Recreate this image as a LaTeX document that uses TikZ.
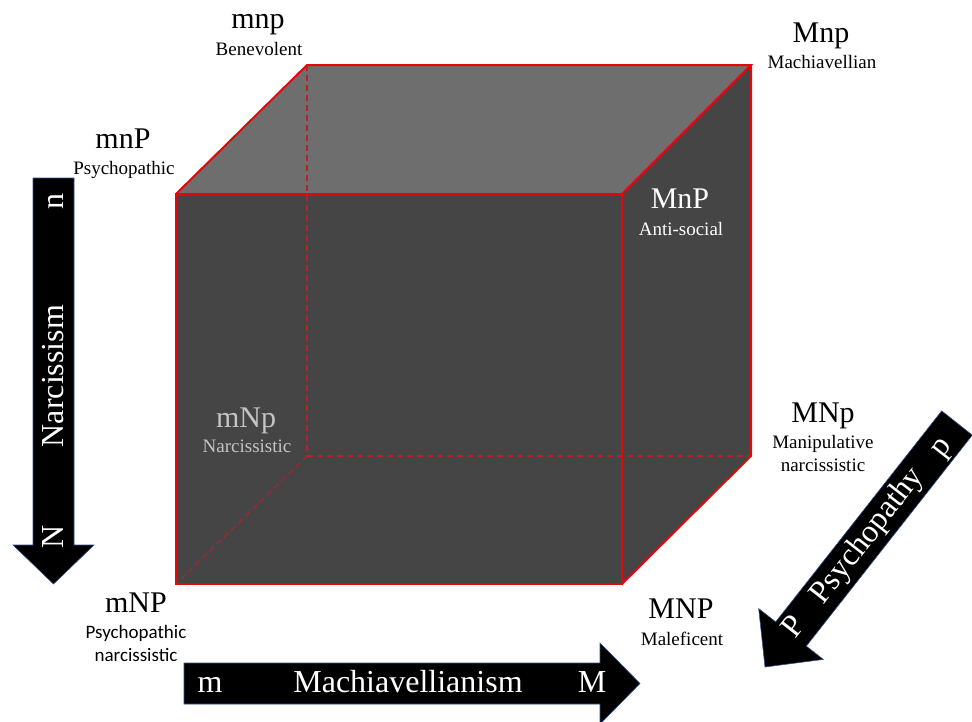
\documentclass[tikz,border=0pt]{standalone}
\usepackage{fontspec}
\setmainfont{Liberation Serif}
\newfontfamily\carlitofont{Carlito}
\definecolor{topgray}{HTML}{6E6E6E}
\definecolor{facegray}{HTML}{454545}
\definecolor{edgered}{HTML}{E00A0A}
\definecolor{dashred}{HTML}{B8202A}
\definecolor{arrowline}{HTML}{2F528F}
\definecolor{ghost}{HTML}{C4C4C4}
\tikzset{
  lab/.style={font=\fontsize{30}{30}\selectfont, anchor=base, inner sep=0pt},
  sublab/.style={font=\fontsize{19}{19}\selectfont, anchor=base, inner sep=0pt},
  axislab/.style={text=white, font=\fontsize{32}{32}\selectfont, text height=22pt, text depth=6pt, inner sep=0pt, anchor=center},
  solidedge/.style={draw=edgered, line width=2pt, line join=miter},
  hiddenedge/.style={draw=dashred, line width=1.1pt, dash pattern=on 6pt off 4pt},
  bigarrow/.style={fill=black, draw=arrowline, line width=0.6pt, line join=miter}
}
\begin{document}
\begin{tikzpicture}[x=1pt,y=-1pt]
\useasboundingbox (0,0) rectangle (972,721);
% cube corners
\coordinate (F1) at (176,194);
\coordinate (F2) at (622,194);
\coordinate (F3) at (622,584);
\coordinate (F4) at (176,584);
\coordinate (B1) at (307,65);
\coordinate (B2) at (751,65);
\coordinate (B3) at (751,456);
\coordinate (B4) at (307,456);
% faces
\fill[topgray] (F1) -- (B1) -- (B2) -- (F2) -- cycle;
\fill[facegray] (F2) -- (B2) -- (B3) -- (F3) -- cycle;
\fill[facegray] (F1) -- (F2) -- (F3) -- (F4) -- cycle;
% hidden edges
\draw[hiddenedge] (B1) -- (B4);
\draw[hiddenedge] (B4) -- (B3);
\draw[hiddenedge] (B4) -- (F4);
% visible edges
\draw[solidedge] (F1) -- (F2) -- (F3) -- (F4) -- cycle;
\draw[solidedge] (F1) -- (B1) -- (B2) -- (F2);
\draw[solidedge] (B2) -- (B3) -- (F3);
% arrows
\path[bigarrow] (33,178) -- (74,178) -- (74,545) -- (94,545) -- (53.5,584) -- (13,545) -- (33,545) -- cycle;
\path[bigarrow] (184,663) -- (600,663) -- (600,643) -- (640,683.5) -- (600,724) -- (600,704) -- (184,704) -- cycle;
\path[bigarrow] (941.7,410.9) -- (972.3,435.1) -- (806.3,646.1) -- (823.3,659.4) -- (765,667) -- (758.7,608.6) -- (775.7,621.9) -- cycle;
% axis texts
\node[axislab, rotate=90] (nlo) at (55,201) {n};
\node[axislab, rotate=90] (narc) at (55,376) {Narcissism};
\node[axislab, rotate=90] (nhi) at (55,537) {N};
\node[axislab] (mlo) at (210,684) {m};
\node[axislab] (mach) at (408,684) {Machiavellianism};
\node[axislab] (mhi) at (592,684) {M};
\node[axislab, rotate=52] (plo) at (941,447) {p};
\node[axislab, rotate=52] (psych) at (868,536) {Psychopathy};
\node[axislab, rotate=52] (phi) at (795,628) {P};
% corner labels
\node[lab] (mnp) at (258,28) {mnp};
\node[sublab] (mnpsub) at (259,55) {Benevolent};
\node[lab] (Mnp) at (821,42) {Mnp};
\node[sublab] (Mnpsub) at (822,68) {Machiavellian};
\node[lab] (mnP) at (123,148) {mnP};
\node[sublab] (mnPsub) at (124,174) {Psychopathic};
\node[lab, text=white] (MnP) at (680,208) {MnP};
\node[sublab, text=white] (MnPsub) at (681,235) {Anti-social};
\node[lab, text=ghost] (mNp) at (246,427) {mNp};
\node[sublab, text=ghost] (mNpsub) at (247,452) {Narcissistic};
\node[lab] (MNp) at (823,422) {MNp};
\node[sublab] (MNpsubA) at (823,448) {Manipulative};
\node[sublab] (MNpsubB) at (823,471) {narcissistic};
\node[lab] (mNP) at (136,612) {mNP};
\node[sublab, font=\carlitofont\fontsize{19}{19}\selectfont] (mNPsubA) at (136,638) {Psychopathic};
\node[sublab, font=\carlitofont\fontsize{19}{19}\selectfont] (mNPsubB) at (136,661) {narcissistic};
\node[lab] (MNP) at (681,618) {MNP};
\node[sublab] (MNPsub) at (682,645) {Maleficent};
\end{tikzpicture}
\end{document}
